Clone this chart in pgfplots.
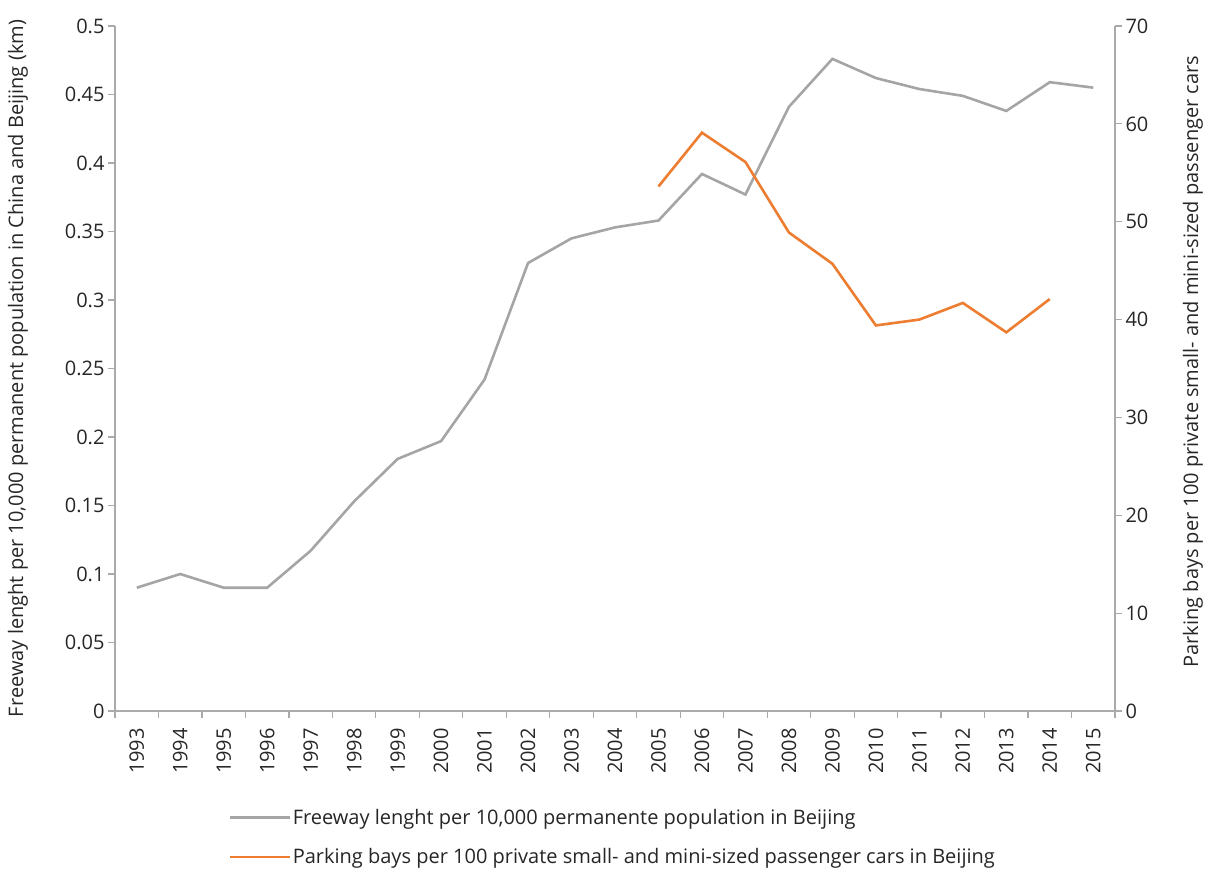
\documentclass[border=0pt]{standalone}
\usepackage{pgfplots}
\pgfplotsset{compat=1.18}
\usepackage{fontspec}
\setmainfont{Open Sans}
\definecolor{grayline}{RGB}{165,165,165}
\definecolor{orangeline}{RGB}{237,125,49}
\definecolor{axisgray}{RGB}{170,170,170}
\pgfplotstableread{
x val
0 0.090
1 0.100
2 0.090
3 0.090
4 0.117
5 0.153
6 0.184
7 0.197
8 0.242
9 0.327
10 0.345
11 0.353
12 0.358
13 0.392
14 0.377
15 0.441
16 0.476
17 0.462
18 0.454
19 0.449
20 0.438
21 0.459
22 0.455
}\freeway
\pgfplotstableread{
x val
12 53.6
13 59.1
14 56.1
15 48.9
16 45.7
17 39.4
18 40.0
19 41.7
20 38.7
21 42.1
}\parking
\begin{document}
\begin{tikzpicture}
\pgfplotsset{
  every axis/.append style={
    scale only axis, width=1000bp, height=685bp,
    xmin=-0.5, xmax=22.5,
    axis line style={axisgray, line width=1.2bp},
    tick style={axisgray, line width=1.2bp},
    tick align=outside,
    major tick length=7bp,
    tick label style={font=\fontsize{20bp}{24bp}\selectfont, text=black!85},
    label style={font=\fontsize{20bp}{24bp}\selectfont, text=black!85},
    /pgf/number format/assume math mode=true,
  }
}
\begin{axis}[
  axis x line*=bottom, axis y line*=left,
  ymin=0, ymax=0.5,
  ytick={0,0.05,...,0.5},
  yticklabel style={/pgf/number format/fixed, /pgf/number format/precision=2},
  xtick={-0.5,0.5,...,22.5},
  xticklabels={},
  extra x ticks={0,...,22},
  extra x tick labels={1993,1994,1995,1996,1997,1998,1999,2000,2001,2002,2003,2004,2005,2006,2007,2008,2009,2010,2011,2012,2013,2014,2015},
  extra x tick style={major tick length=0pt, tick style={draw=none},
     xticklabel style={rotate=90, anchor=east, inner ysep=0pt, inner xsep=17bp}},
  ylabel={Freeway lenght per 10,000 permanent population in China and Beijing (km)},
  ylabel style={at={(axis description cs:-0.097,0.5)}, anchor=center, inner sep=0pt},
  after end axis/.code={\path (rel axis cs:0,0) ++(-115bp,-157bp) (rel axis cs:1,1) ++(93bp,26bp);},
]
\addplot[grayline, line width=2.6bp] table[x=x,y=val]{\freeway};
\end{axis}
\begin{axis}[
  axis x line=none, axis y line*=right,
  ymin=0, ymax=70,
  ytick={0,10,...,70},
  ylabel={Parking bays per 100 private small- and mini-sized passenger cars},
  ylabel style={at={(axis description cs:1.078,0.51)}, anchor=center, inner sep=0pt},
  legend style={at={(0.113,-0.14)}, anchor=north west, draw=none, fill=none,
    font=\fontsize{20bp}{24bp}\selectfont, text=black!85,
    row sep=19bp, cells={anchor=west}, inner sep=0pt,
    /tikz/every even column/.append style={column sep=4bp}},
  legend image code/.code={\draw[#1] (0bp,0bp) -- (60bp,0bp);},
]
\addlegendimage{grayline, line width=2.6bp}
\addlegendentry{Freeway lenght per 10,000 permanente population in Beijing}
\addplot[orangeline, line width=2.6bp] table[x=x,y=val]{\parking};
\addlegendentry{Parking bays per 100 private small- and mini-sized passenger cars in Beijing}
\end{axis}
\end{tikzpicture}
\end{document}
